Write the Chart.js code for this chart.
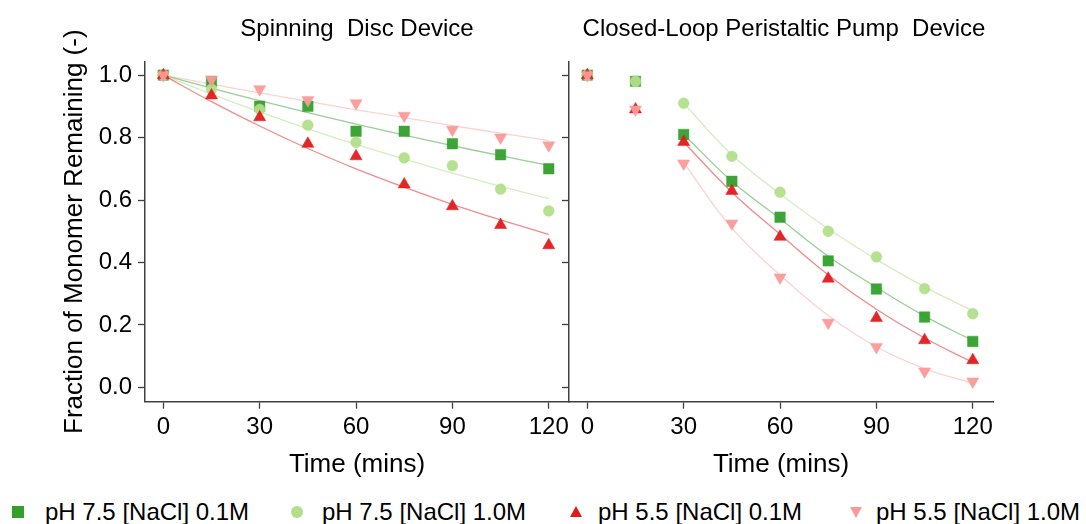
<!DOCTYPE html>
<html>
<head>
<meta charset="utf-8">
<script src="https://cdn.jsdelivr.net/npm/chart.js@4.4.1/dist/chart.umd.min.js"></script>
<style>
    body { margin: 0; width: 1086px; height: 524px; overflow: hidden; background: #fff; position: relative;
           font-family: "Liberation Sans", Arial, sans-serif; color: #000; }
    canvas { position: absolute; top: 0; }
    .panel-title { position: absolute; top: 16px; font-size: 24px; line-height: 24px; text-align: center; white-space: pre; }
    .legend-text { position: absolute; top: 500px; font-size: 24px; line-height: 24px; white-space: pre; }
    .mk { position: absolute; }
</style>
</head>
<body>
<canvas id="discChart" width="610" height="490" style="left:0px"></canvas>
<canvas id="pumpChart" width="546" height="490" style="left:540px"></canvas>

<div class="panel-title" style="left:145px; width:424px">Spinning  Disc Device</div>
<div class="panel-title" style="left:572px; width:424px">Closed-Loop Peristaltic Pump  Device</div>

<!-- legend -->
<div class="mk" style="left:12px; top:506px; width:12px; height:12px; background:#33a02c"></div>
<div class="legend-text" style="left:45px">pH 7.5 [NaCl] 0.1M</div>
<div class="mk" style="left:291px; top:506px; width:12px; height:12px; border-radius:50%; background:#b2df8a"></div>
<div class="legend-text" style="left:322px">pH 7.5 [NaCl] 1.0M</div>
<div class="mk" style="left:570px; top:506px; width:0; height:0; border-left:6.5px solid transparent; border-right:6.5px solid transparent; border-bottom:11px solid #e31a1c"></div>
<div class="legend-text" style="left:598px">pH 5.5 [NaCl] 0.1M</div>
<div class="mk" style="left:850px; top:507px; width:0; height:0; border-left:6px solid transparent; border-right:6px solid transparent; border-top:11px solid #fb9a99"></div>
<div class="legend-text" style="left:876px">pH 5.5 [NaCl] 1.0M</div>

<script>
// Sampling times (mins)
var timePoints = [0, 15, 30, 45, 60, 75, 90, 105, 120];
var pumpFitTimes = [30, 45, 60, 75, 90, 105, 120];

// Tick labels
var xTicks = [0, 30, 60, 90, 120];
var yTicks = [0.0, 0.2, 0.4, 0.6, 0.8, 1.0];

// Spinning disc device - measured fraction remaining
var discPH75Na01 = [1.0, 0.98, 0.90, 0.90, 0.82, 0.82, 0.78, 0.745, 0.70];
var discPH75Na10 = [1.0, 0.955, 0.89, 0.84, 0.785, 0.735, 0.71, 0.635, 0.565];
var discPH55Na01 = [1.0, 0.935, 0.865, 0.78, 0.74, 0.65, 0.58, 0.52, 0.455];
var discPH55Na10 = [1.0, 0.985, 0.955, 0.92, 0.91, 0.87, 0.825, 0.80, 0.775];

// Spinning disc device - fitted curves (same times)
var discFitPH75Na01 = [1.0, 0.958, 0.918, 0.88, 0.843, 0.808, 0.774, 0.742, 0.711];
var discFitPH75Na10 = [1.0, 0.939, 0.882, 0.828, 0.778, 0.731, 0.686, 0.644, 0.605];
var discFitPH55Na01 = [1.0, 0.915, 0.837, 0.765, 0.70, 0.641, 0.586, 0.536, 0.49];
var discFitPH55Na10 = [1.0, 0.971, 0.943, 0.916, 0.889, 0.864, 0.838, 0.814, 0.79];

// Peristaltic pump device - measured fraction remaining
var pumpPH75Na01 = [1.0, 0.98, 0.81, 0.66, 0.545, 0.405, 0.315, 0.225, 0.147];
var pumpPH75Na10 = [1.0, 0.98, 0.91, 0.74, 0.625, 0.50, 0.418, 0.316, 0.236];
var pumpPH55Na01 = [1.0, 0.89, 0.786, 0.629, 0.482, 0.348, 0.222, 0.151, 0.087];
var pumpPH55Na10 = [1.0, 0.89, 0.717, 0.525, 0.352, 0.207, 0.129, 0.051, 0.019];

// Peristaltic pump device - fitted curves (from 30 mins)
var pumpFitPH75Na01 = [0.81, 0.66, 0.54, 0.42, 0.32, 0.228, 0.15];
var pumpFitPH75Na10 = [0.91, 0.745, 0.62, 0.508, 0.41, 0.322, 0.245];
var pumpFitPH55Na01 = [0.785, 0.625, 0.49, 0.36, 0.25, 0.158, 0.08];
var pumpFitPH55Na10 = [0.72, 0.51, 0.36, 0.23, 0.13, 0.06, 0.013];

var FONT = '"Liberation Sans", Arial, sans-serif';
var AXIS_COLOR = '#404040';

Chart.defaults.font.family = FONT;
Chart.defaults.color = '#000';

// Pair up x and y arrays
function toXY(xs, ys)
{
    return ys.map(function(v, i) { return { x: xs[i], y: v }; });
}

function pointSet(xs, ys, style, radius, colour, rotation)
{
    return {
        data: toXY(xs, ys),
        showLine: false,
        pointStyle: style,
        pointRadius: radius,
        pointRotation: rotation || 0,
        pointBackgroundColor: colour,
        pointBorderColor: colour,
        pointBorderWidth: 0.5
    };
}

function fitSet(xs, ys, colour)
{
    return {
        data: toXY(xs, ys),
        showLine: true,
        pointRadius: 0,
        borderColor: colour,
        borderWidth: 1.3,
        tension: 0.4,
        fill: false
    };
}

// Build datasets for one panel - first ones are drawn on top
function panelDatasets(a, b, c, d, fitTimes, fa, fb, fc, fd)
{
    return [
        pointSet(timePoints, d, 'triangle', 7, 'rgba(251,154,153,0.95)', 180),
        pointSet(timePoints, c, 'triangle', 7, 'rgba(227,26,28,0.95)'),
        pointSet(timePoints, b, 'circle', 5.4, 'rgba(178,223,138,0.95)'),
        pointSet(timePoints, a, 'rect', 7.4, 'rgba(51,160,44,0.95)'),
        fitSet(fitTimes, fd, 'rgba(251,154,153,0.45)'),
        fitSet(fitTimes, fc, 'rgba(227,26,28,0.5)'),
        fitSet(fitTimes, fb, 'rgba(178,223,138,0.55)'),
        fitSet(fitTimes, fa, 'rgba(51,160,44,0.5)')
    ];
}

function makePanel(canvasId, datasets, isLeft)
{
    var ctx = document.getElementById(canvasId).getContext('2d');
    var config = {
        type: 'scatter',
        data: { datasets: datasets },
        options: {
            responsive: false,
            animation: false,
            devicePixelRatio: 1,
            // chart areas: left panel 145..569, right panel 569..993
            layout: { padding: { top: 61.7, left: 0, bottom: 0, right: isLeft ? 41 : 93 } },
            plugins: { legend: { display: false }, tooltip: { enabled: false }, title: { display: false } },
            scales: {
                x: {
                    type: 'linear',
                    min: -5.7,
                    max: 126.3,
                    afterBuildTicks: function(scale) {
                        scale.ticks = xTicks.map(function(v) { return { value: v }; });
                    },
                    afterFit: function(scale) { scale.height = 490 - 401.7; },
                    ticks: { font: { size: 24 }, color: '#000', padding: 4, maxRotation: 0 },
                    grid: { drawOnChartArea: false, drawTicks: true, tickLength: 7, tickColor: AXIS_COLOR, tickWidth: 1.3 },
                    border: { display: true, color: AXIS_COLOR, width: 1.5 },
                    title: { display: true, text: 'Time (mins)', font: { size: 26 }, color: '#000', padding: { top: 0, bottom: 9.4 } }
                },
                y: {
                    type: 'linear',
                    min: -0.046,
                    max: 1.043,
                    afterBuildTicks: function(scale) {
                        scale.ticks = yTicks.map(function(v) { return { value: v }; });
                    },
                    afterFit: function(scale) { scale.width = isLeft ? 145 : 29; },
                    ticks: {
                        display: isLeft,
                        font: { size: 24 },
                        color: '#000',
                        padding: 6,
                        callback: function(v) { return Number(v).toFixed(1); }
                    },
                    grid: { drawOnChartArea: false, drawTicks: true, tickLength: 7, tickColor: AXIS_COLOR, tickWidth: 1.3 },
                    border: { display: true, color: AXIS_COLOR, width: 1.5 },
                    title: {
                        display: isLeft,
                        text: 'Fraction of Monomer Remaining (-)',
                        font: { size: 26 },
                        color: '#000',
                        padding: { top: 58.8, bottom: 0 }
                    }
                }
            }
        }
    };
    return new Chart(ctx, config);
}

// Draw both panels
makePanel('discChart', panelDatasets(discPH75Na01, discPH75Na10, discPH55Na01, discPH55Na10,
    timePoints, discFitPH75Na01, discFitPH75Na10, discFitPH55Na01, discFitPH55Na10), true);

makePanel('pumpChart', panelDatasets(pumpPH75Na01, pumpPH75Na10, pumpPH55Na01, pumpPH55Na10,
    pumpFitTimes, pumpFitPH75Na01, pumpFitPH75Na10, pumpFitPH55Na01, pumpFitPH55Na10), false);
</script>
</body>
</html>
